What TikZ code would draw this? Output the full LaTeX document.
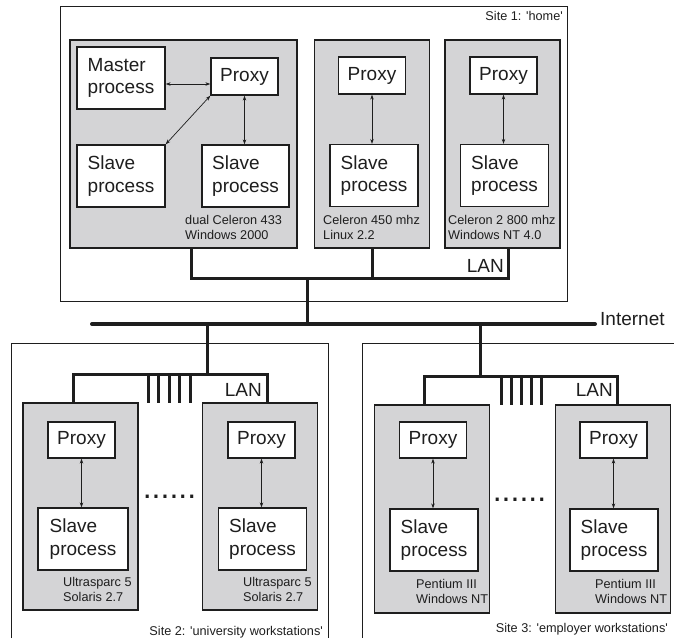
\documentclass[tikz,border=0pt]{standalone}
\usepackage{fontspec}
\setmainfont{Liberation Sans}
\usepackage{xcolor}
\definecolor{ink}{RGB}{30,30,30}
\definecolor{boxgrey}{RGB}{212,212,214}
\usepackage{tikz}
\usetikzlibrary{arrows.meta,positioning,calc}
\tikzset{
  %% frames
  site/.style={draw=ink, line width=1pt},
  machine/.style={draw=ink, fill=boxgrey, line width=1.3pt,
                  minimum width=115pt, minimum height=207pt, inner sep=0pt},
  %% process boxes
  procbox/.style={draw=ink, fill=white, line width=1.3pt, inner sep=0pt,
                  align=left, text=ink, font=\fontsize{19}{22.5}\selectfont},
  proxybox/.style={procbox, minimum width=67pt, minimum height=36pt},
  slavebox/.style={procbox, minimum width=88pt, minimum height=62pt},
  %% texts
  spec/.style={anchor=west, inner sep=0pt, align=left, text=ink,
               font=\fontsize{12.7}{15}\selectfont},
  biglabel/.style={inner sep=0pt, text=ink, font=\fontsize{19}{21}\selectfont},
  sitelabel/.style={anchor=east, inner sep=0pt, text=ink,
                    font=\fontsize{12.7}{15}\selectfont},
  dotrow/.style={inner sep=0pt, text=ink, font=\fontsize{32}{32}\selectfont},
  %% lines
  link/.style={draw=ink, line width=0.7pt,
               {Stealth[length=5pt,width=3.5pt]}-{Stealth[length=5pt,width=3.5pt]}},
  lan/.style={draw=ink, line width=3pt},
  net/.style={draw=ink, line width=4pt, line cap=round},
}
\begin{document}
\begin{tikzpicture}[x=1pt,y=-1pt]
  \useasboundingbox (0,0) rectangle (674,638);
  %% site 1
  \draw[site] (60,6) rectangle (567,301);
  \node[sitelabel] (site1) at (563,16) {Site 1: \textquotesingle home\textquotesingle};
  \node[machine, minimum width=227pt, minimum height=208pt] (m1) at (183.5,144) {};
  \node[slavebox] (master) at (121,78) {Master\\process};
  \node[proxybox, minimum height=37pt] (p1) at (244.5,76.5) {Proxy};
  \node[slavebox] (sa1) at (121,176) {Slave\\process};
  \node[slavebox, minimum width=87pt] (sb1) at (245.5,176) {Slave\\process};
  \node[spec] (lm1) at (185,227.5) {dual Celeron 433\\Windows 2000};
  \draw[link] ([yshift=-6pt]master.east) -- ([yshift=-7.5pt]p1.west);
  \draw[link] (p1.south west) -- (sa1.north east);
  \draw[link] (p1.south) -- (p1.south |- sb1.north);
  \node[machine, minimum height=208pt] (m2) at (372,144) {};
  \node[proxybox, minimum height=37pt] (p2) at (372,75.5) {Proxy};
  \node[slavebox] (s2) at (374,175.5) {Slave\\process};
  \node[spec] (lm2) at (323,227.5) {Celeron 450 mhz\\Linux 2.2};
  \draw[link] (p2.south) -- (p2.south |- s2.north);
  \node[machine, minimum height=208pt] (m3) at (502.5,144) {};
  \node[proxybox, minimum height=37pt] (p3) at (503.5,75.5) {Proxy};
  \node[slavebox] (s3) at (504.5,175.5) {Slave\\process};
  \node[spec] (lm3) at (448,227.5) {Celeron 2 800 mhz\\Windows NT 4.0};
  \draw[link] (p3.south) -- (p3.south |- s3.north);
  %% LAN 1
  \coordinate (lan1w) at (191,278);
  \coordinate (lan1e) at (508,278);
  \coordinate (up1) at (307,278);
  \draw[lan] (m1.south -| lan1w) -- (lan1w) -- (lan1e) -- (m3.south -| lan1e);
  \draw[lan] (m2.south) -- (m2.south |- lan1w);
  \node[biglabel, anchor=east] (lan1) at (504,266) {LAN};
  %% internet
  \coordinate (netw) at (92,324);
  \coordinate (nete) at (595,324);
  \draw[net] (netw) -- (nete);
  \node[biglabel, anchor=west] (inet) at (600,319) {Internet};
  \draw[lan] (up1) -- (up1 |- netw);
  %% site 2
  \draw[site] (11,638) -- (11,343) -- (328,343) -- (328,638);
  \node[sitelabel] (site2) at (323,632)
    {Site 2: \textquotesingle university workstations\textquotesingle};
  \node[machine] (u1) at (80.5,506.5) {};
  \node[proxybox] (pu1) at (81.5,440) {Proxy};
  \node[slavebox, minimum width=90pt] (su1) at (83,539) {Slave\\process};
  \node[spec] (lu1) at (63,589) {Ultrasparc 5\\Solaris 2.7};
  \draw[link] (pu1.south) -- (pu1.south |- su1.north);
  \node[machine] (u2) at (260,506.5) {};
  \node[proxybox] (pu2) at (261.5,440) {Proxy};
  \node[slavebox] (su2) at (262.5,539) {Slave\\process};
  \node[spec] (lu2) at (243,589) {Ultrasparc 5\\Solaris 2.7};
  \draw[link] (pu2.south) -- (pu2.south |- su2.north);
  \node[dotrow] (dots2) at (169.5,497) {......};
  %% LAN 2
  \coordinate (lan2w) at (73,374);
  \coordinate (lan2e) at (267,374);
  \coordinate (up2) at (207,374);
  \draw[lan] (u1.north -| lan2w) -- (lan2w) -- (lan2e) -- (u2.north -| lan2e);
  \draw[lan] (up2) -- (up2 |- netw);
  \foreach \x in {148,158.5,169,179.5,190}
    \draw[lan] (\x,374) -- (\x,403);
  \node[biglabel, anchor=east] (lan2) at (262,390) {LAN};
  %% site 3
  \draw[site] (674,343) -- (362,343) -- (362,638);
  \node[sitelabel] (site3) at (668,629)
    {Site 3: \textquotesingle employer workstations\textquotesingle};
  \node[machine, minimum height=208pt] (e1) at (432,509) {};
  \node[proxybox] (pe1) at (433,440) {Proxy};
  \node[slavebox] (se1) at (434,540) {Slave\\process};
  \node[spec] (le1) at (416,591.5) {Pentium III\\Windows NT};
  \draw[link] (pe1.south) -- (pe1.south |- se1.north);
  \node[machine, minimum height=208pt] (e2) at (613,509) {};
  \node[proxybox] (pe2) at (613.5,440) {Proxy};
  \node[slavebox] (se2) at (614,540) {Slave\\process};
  \node[spec] (le2) at (595,591.5) {Pentium III\\Windows NT};
  \draw[link] (pe2.south) -- (pe2.south |- se2.north);
  \node[dotrow] (dots3) at (519.5,500) {......};
  %% LAN 3
  \coordinate (lan3w) at (424,376);
  \coordinate (lan3e) at (617,376);
  \coordinate (up3) at (480,376);
  \draw[lan] (e1.north -| lan3w) -- (lan3w) -- (lan3e) -- (e2.north -| lan3e);
  \draw[lan] (up3) -- (up3 |- netw);
  \foreach \x in {501,511,521,531,541}
    \draw[lan] (\x,376) -- (\x,405);
  \node[biglabel, anchor=east] (lan3) at (613,390) {LAN};
\end{tikzpicture}
\end{document}
